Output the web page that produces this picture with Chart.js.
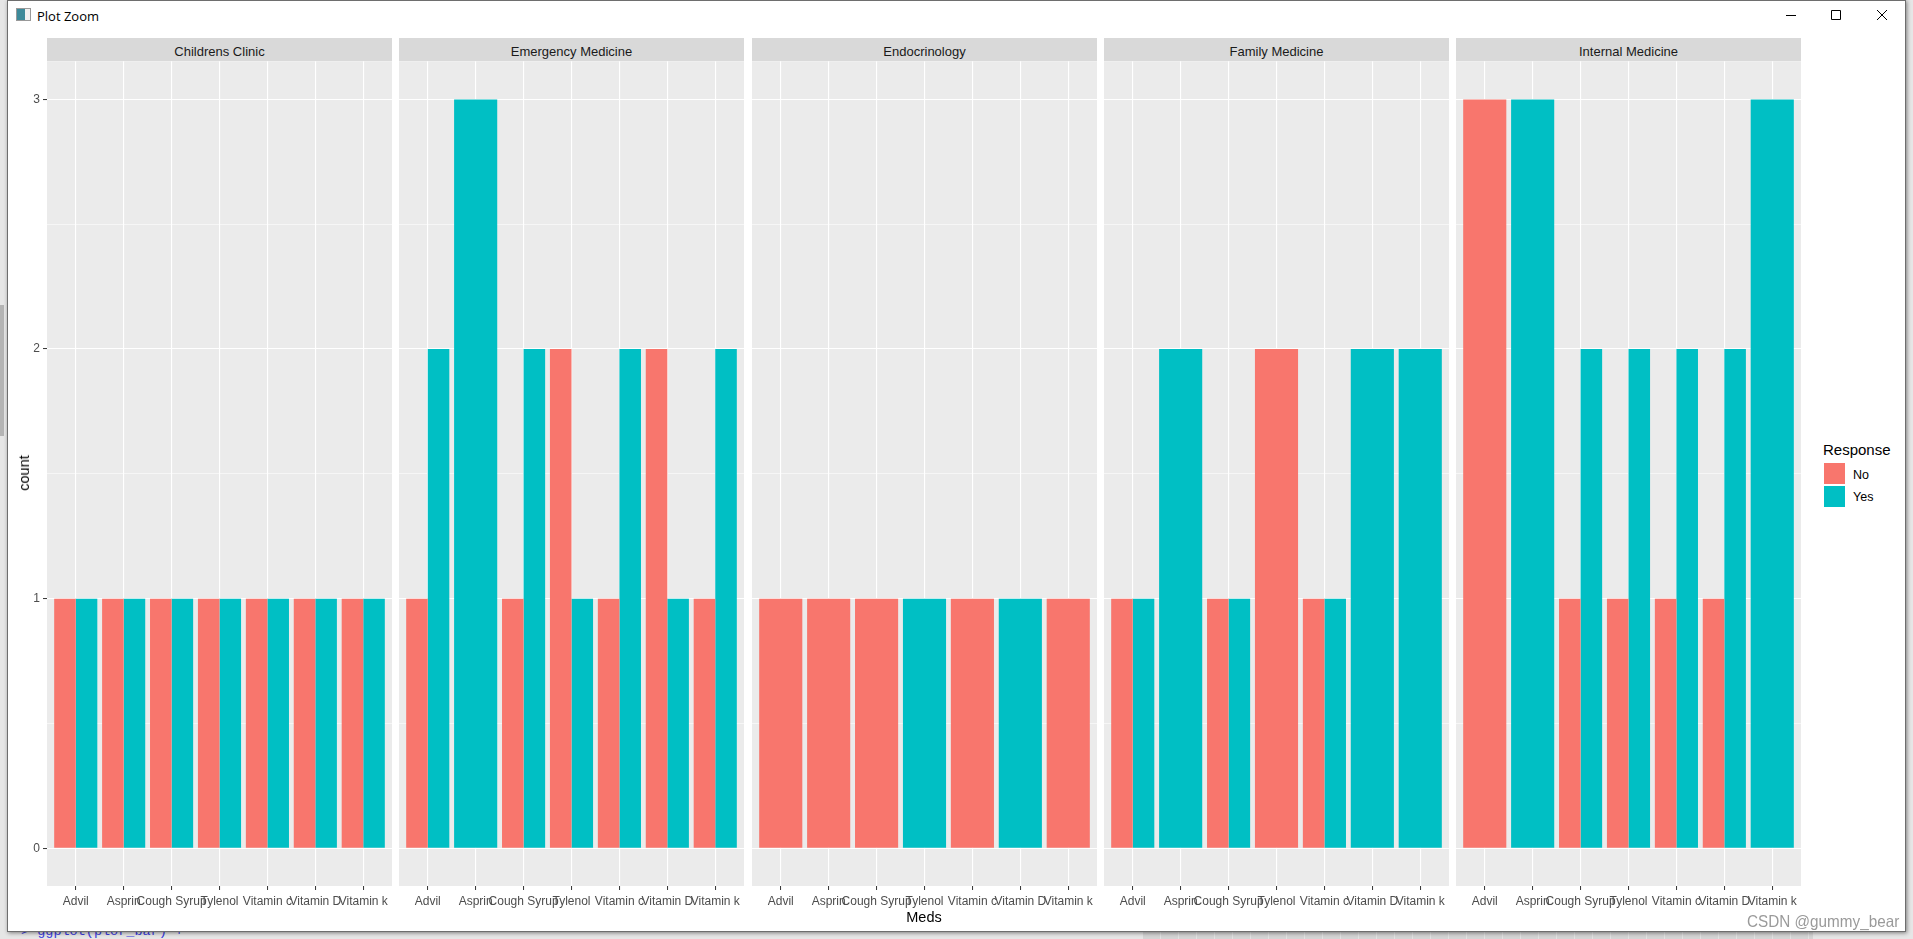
<!DOCTYPE html>
<html>
<head>
<meta charset="utf-8">
<title>Plot Zoom</title>
<script src="https://cdn.jsdelivr.net/npm/chart.js@4/dist/chart.umd.min.js"></script>
<style>
    html, body { margin: 0; padding: 0; width: 1913px; height: 939px; overflow: hidden; background: #e6e6e6; font-family: "Liberation Sans", Arial, sans-serif; }
    .abs { position: absolute; white-space: nowrap; }
    #console { left: 21px; top: 924px; font: 13.5px "Liberation Mono", monospace; color: #3b3be0; }
    #scrollbar { left: 0; top: 305px; width: 4px; height: 131px; background: #b4b4b4; }
    #stripes { left: 1143px; top: 932px; width: 670px; height: 7px; background: repeating-linear-gradient(90deg, #d4d4d4 0, #d4d4d4 17px, #e2e2e2 17px, #e2e2e2 18px); }
    #window { left: 7px; top: 0; width: 1899px; height: 932px; box-sizing: border-box; background: #fff; border: 1px solid #6e6e6e; box-shadow: 1px 1px 4px rgba(0,0,0,.45); }
    #icon { left: 16px; top: 8px; width: 13px; height: 11px; border: 1px solid #999; background: linear-gradient(90deg, #3d8a9a 0, #3d8a9a 60%, #f0f0f0 60%); }
    #wintitle { left: 37px; top: 7px; font: 13px "Open Sans", sans-serif; color: #000; }
    .strip { top: 38px; height: 23px; line-height: 27px; width: 345px; background: #d9d9d9; color: #1a1a1a; font-size: 13px; text-align: center; }
    .axis-title { font-size: 14.5px; color: #000; }
    #ytitle { left: 24px; top: 473px; transform: translate(-50%, -50%) rotate(-90deg); }
    #xtitle { left: 924px; top: 917px; transform: translate(-50%, -50%); }
    #legend-title { left: 1823px; top: 441px; font-size: 15px; color: #000; }
    .key { left: 1824px; width: 21px; height: 21px; }
    .key-label { left: 1853px; font-size: 12.5px; color: #000; }
    #watermark { left: 1747px; top: 912px; font-size: 16.5px; color: #9a9a9a; transform: scaleX(.926); transform-origin: left center; }
    canvas { position: absolute; }
</style>
</head>
<body>
<div id="console" class="abs">&gt; ggplot(plor_bar) +</div>
<div id="scrollbar" class="abs"></div>
<div id="stripes" class="abs"></div>
<div id="window" class="abs"></div>
<div id="icon" class="abs"></div>
<div id="wintitle" class="abs">Plot Zoom</div>
<svg class="abs" style="left:1780px;top:5px" width="115" height="20">
    <path d="M6 10.5H16M51.5 5.5H60.5V14.5H51.5ZM97 5L107 15M107 5L97 15" fill="none" stroke="#000" stroke-width="1"/>
</svg>
<div id="charts"></div>
<div id="ytitle" class="abs axis-title">count</div>
<div id="xtitle" class="abs axis-title">Meds</div>
<div id="legend-title" class="abs">Response</div>
<div class="abs key" style="top:463px;background:#F8766D"></div>
<div class="abs key" style="top:486px;background:#00BFC4"></div>
<div class="abs key-label" style="top:468px">No</div>
<div class="abs key-label" style="top:490px">Yes</div>
<div id="watermark" class="abs">CSDN @gummy_bear</div>

<script>
var categories = ["Advil", "Asprin", "Cough Syrup", "Tylenol", "Vitamin c", "Vitamin D", "Vitamin k"];
var clinics = ["Childrens Clinic", "Emergency Medicine", "Endocrinology", "Family Medicine", "Internal Medicine"];
var responses = ["No", "Yes"];
var yTicks = [0, 0.5, 1, 1.5, 2, 2.5, 3];

var childrensNo = [1, 1, 1, 1, 1, 1, 1];
var childrensYes = [1, 1, 1, 1, 1, 1, 1];
var emergencyNo = [1, null, 1, 2, 1, 2, 1];
var emergencyYes = [2, 3, 2, 1, 2, 1, 2];
var endocrinologyNo = [1, 1, 1, null, 1, null, 1];
var endocrinologyYes = [null, null, null, 1, null, 1, null];
var familyNo = [1, null, 1, 2, 1, null, null];
var familyYes = [1, 2, 1, null, 1, 2, 2];
var internalNo = [3, null, 1, 1, 1, 1, null];
var internalYes = [null, 3, 2, 2, 2, 2, 3];

var noValues = [childrensNo, emergencyNo, endocrinologyNo, familyNo, internalNo];
var yesValues = [childrensYes, emergencyYes, endocrinologyYes, familyYes, internalYes];

var colors = ["#F8766D", "#00BFC4"];
var panelLefts = [47, 399, 752, 1104, 1456];
var panelWidth = 345;
var panelTop = 61;
var panelHeight = 825;
var padLeft = 20;
var padRight = 12;
var padTop = 10;
var axisHeight = 30;

var panelBackground = {
    id: "panelBackground",
    beforeDraw: function(chart)
    {
        var area = chart.chartArea;
        chart.ctx.save();
        chart.ctx.fillStyle = "#EBEBEB";
        chart.ctx.fillRect(area.left, area.top, area.right - area.left, area.bottom - area.top);
        chart.ctx.restore();
    }
};

function toPoints(values)
{
    return values.map(function(v, i)
    {
        return { x: i + 1, y: v };
    });
}

function isMajor(value)
{
    return Number.isInteger(value);
}

function drawPanel(index)
{
    var canvas = document.createElement("canvas");
    canvas.width = padLeft + panelWidth + padRight;
    canvas.height = padTop + panelHeight + axisHeight;
    canvas.style.left = (panelLefts[index] - padLeft) + "px";
    canvas.style.top = (panelTop - padTop) + "px";
    document.getElementById("charts").appendChild(canvas);

    var strip = document.createElement("div");
    strip.className = "abs strip";
    strip.style.left = panelLefts[index] + "px";
    strip.textContent = clinics[index];
    document.getElementById("charts").appendChild(strip);

    new Chart(canvas.getContext("2d"), {
        type: "bar",
        data: {
            datasets: [
                { label: responses[0], data: toPoints(noValues[index]), backgroundColor: colors[0] },
                { label: responses[1], data: toPoints(yesValues[index]), backgroundColor: colors[1] }
            ]
        },
        options: {
            responsive: false,
            animation: false,
            devicePixelRatio: 1,
            layout: { padding: { top: padTop, right: padRight, left: 0, bottom: 0 } },
            datasets: {
                bar: { skipNull: true, categoryPercentage: 0.9, barPercentage: 1, inflateAmount: 0, borderWidth: 0 }
            },
            plugins: { legend: { display: false }, tooltip: { enabled: false } },
            scales: {
                x: {
                    type: "linear",
                    offset: false,
                    min: 0.4,
                    max: 7.6,
                    afterBuildTicks: function(scale)
                    {
                        scale.ticks = categories.map(function(c, i) { return { value: i + 1 }; });
                    },
                    afterFit: function(scale) { scale.height = axisHeight; },
                    border: { display: false },
                    grid: { offset: false, color: "#FFFFFF", lineWidth: 1.1, tickColor: "#333333", tickLength: 4, tickWidth: 1 },
                    ticks: {
                        autoSkip: false,
                        maxRotation: 0,
                        padding: 4,
                        color: "#4D4D4D",
                        font: { family: "Liberation Sans", size: 12 },
                        callback: function(value) { return categories[value - 1]; }
                    }
                },
                y: {
                    min: -0.151,
                    max: 3.153,
                    afterBuildTicks: function(scale)
                    {
                        scale.ticks = yTicks.map(function(v) { return { value: v }; });
                    },
                    afterFit: function(scale) { scale.width = padLeft; },
                    border: { display: false },
                    grid: {
                        color: "#FFFFFF",
                        lineWidth: function(ctx) { return isMajor(ctx.tick.value) ? 1.1 : 0.55; },
                        tickColor: function(ctx) { return index == 0 && isMajor(ctx.tick.value) ? "#333333" : "rgba(0,0,0,0)"; },
                        tickLength: 4,
                        tickWidth: 1
                    },
                    ticks: {
                        padding: 3,
                        autoSkip: false,
                        color: "#4D4D4D",
                        font: { family: "Liberation Sans", size: 12 },
                        callback: function(value) { return index == 0 && isMajor(value) ? String(value) : ""; }
                    }
                }
            }
        },
        plugins: [panelBackground]
    });
}

for (var i = 0; i < clinics.length; ++i)
{
    drawPanel(i);
}
</script>
</body>
</html>
